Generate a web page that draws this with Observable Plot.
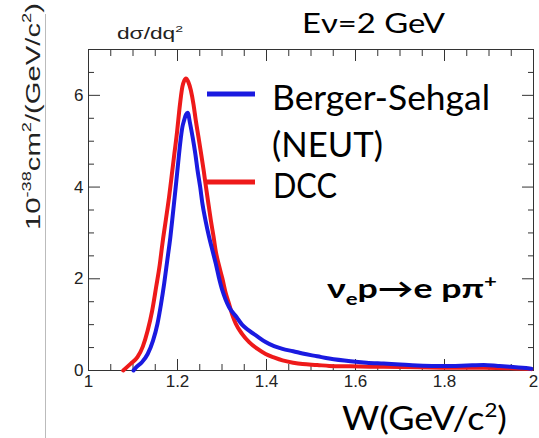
<!DOCTYPE html>
<html><head><meta charset="utf-8">
<script src="https://cdn.jsdelivr.net/npm/d3@7"></script>
<script src="https://cdn.jsdelivr.net/npm/@observablehq/plot@0.6"></script>
<style>body{margin:0;background:#fff} #chart{position:relative;width:539px;height:438px;overflow:hidden;background:#fff}</style>
</head><body><div id="chart"></div>
<script>
// DCC model (red)
const W_DCC = [1.078,1.095,1.110,1.122,1.133,1.143,1.152,1.160,1.166,1.174,1.181,1.187,1.193,1.199,1.204,1.211,1.215,1.219,1.224,1.230,1.236,1.241,1.247,1.253,1.259,1.264,1.270,1.275,1.281,1.286,1.293,1.301,1.308,1.316,1.323,1.331,1.345,1.361,1.380,1.398,1.418,1.436,1.460,1.481,1.514,1.541,1.589,1.663,1.739,1.814,1.888,1.950,1.995];
const V_DCC = [0,0.15,0.29,0.52,0.87,1.30,1.82,2.30,2.76,3.30,3.78,4.25,4.73,5.20,5.67,6.19,6.32,6.37,6.30,6.11,5.80,5.46,5.10,4.73,4.35,4.00,3.60,3.27,2.92,2.60,2.30,2.00,1.70,1.45,1.22,1.02,0.80,0.62,0.47,0.36,0.28,0.22,0.17,0.14,0.12,0.10,0.09,0.08,0.07,0.06,0.06,0.05,0.03];
// Berger-Sehgal (NEUT) model (blue)
const W_NEUT = [1.101,1.107,1.120,1.133,1.145,1.155,1.163,1.170,1.177,1.184,1.190,1.196,1.201,1.206,1.211,1.215,1.219,1.223,1.228,1.234,1.240,1.245,1.251,1.256,1.263,1.271,1.279,1.286,1.293,1.301,1.308,1.316,1.333,1.345,1.361,1.380,1.398,1.417,1.436,1.460,1.481,1.514,1.541,1.589,1.625,1.663,1.700,1.739,1.780,1.814,1.850,1.888,1.920,1.949,1.975,1.995];
const V_NEUT = [0,0.07,0.18,0.36,0.65,1.02,1.45,1.89,2.40,2.91,3.45,4.00,4.48,4.95,5.31,5.46,5.58,5.62,5.40,5.09,4.73,4.37,4.00,3.64,3.27,2.91,2.60,2.33,2.03,1.74,1.55,1.38,1.16,1.00,0.87,0.74,0.62,0.53,0.47,0.42,0.37,0.31,0.26,0.20,0.17,0.15,0.13,0.11,0.10,0.10,0.11,0.12,0.10,0.08,0.06,0.04];

const xLabelTicks = [1,1.2,1.4,1.6,1.8,2];
const xMinorTicks = [1.05,1.1,1.15,1.25,1.3,1.35,1.45,1.5,1.55,1.65,1.7,1.75,1.85,1.9,1.95];
const yLabelTicks = [0,2,4,6];
const yMinorTicks = [0.5,1,1.5,2.5,3,3.5,4.5,5,5.5,6.5];

const dcc = W_DCC.map((W,i)=>({W, v:V_DCC[i]}));
const neut = W_NEUT.map((W,i)=>({W, v:V_NEUT[i]}));

const RED = "#ee1a1a", BLUE = "#1a1ae0", TICK = "#333";
const blank = () => "";

const chart = Plot.plot({
  width:539, height:438, marginTop:49, marginRight:6, marginBottom:68, marginLeft:88,
  style:{background:"#fff", fontFamily:"'Liberation Sans', Arial, sans-serif", color:"#222"},
  x:{domain:[1,2]}, y:{domain:[0,7]},
  marks:[
    Plot.frame({stroke:TICK}),
    Plot.axisX(xLabelTicks, {anchor:"bottom", tickSize:-11, tickFormat:blank, label:null, stroke:TICK}),
    Plot.axisX(xMinorTicks, {anchor:"bottom", tickSize:-6, tickFormat:blank, label:null, stroke:TICK}),
    Plot.axisX(xLabelTicks, {anchor:"top", tickSize:-11, tickFormat:blank, label:null, stroke:TICK}),
    Plot.axisX(xMinorTicks, {anchor:"top", tickSize:-6, tickFormat:blank, label:null, stroke:TICK}),
    Plot.axisY(yLabelTicks, {anchor:"left", tickSize:-12, tickFormat:blank, label:null, stroke:TICK}),
    Plot.axisY(yMinorTicks, {anchor:"left", tickSize:-6, tickFormat:blank, label:null, stroke:TICK}),
    Plot.axisY(yLabelTicks, {anchor:"right", tickSize:-12, tickFormat:blank, label:null, stroke:TICK}),
    Plot.axisY(yMinorTicks, {anchor:"right", tickSize:-6, tickFormat:blank, label:null, stroke:TICK}),
    Plot.axisX(xLabelTicks, {anchor:"bottom", tickSize:0, tickPadding:4, fontSize:17, label:null, tickFormat:d=>String(+d.toFixed(1))}),
    Plot.axisY(yLabelTicks, {anchor:"left", tickSize:0, tickPadding:5, fontSize:17, label:null, tickFormat:d=>String(d)}),
    Plot.line(dcc, {x:"W", y:"v", stroke:RED, strokeWidth:4, curve:"monotone-x"}),
    Plot.line(neut, {x:"W", y:"v", stroke:BLUE, strokeWidth:4, curve:"monotone-x"})
  ]
});
document.getElementById("chart").appendChild(chart);

const svg = d3.select(chart);
const g = svg.append("g").attr("text-anchor","start");
g.append("line").attr("x1",45.5).attr("x2",45.5).attr("y1",14).attr("y2",438).attr("stroke","#bbb").attr("stroke-width",1);

function label(x, y, segs, o) {
  const t = g.append("text").attr("x",x).attr("y",y).attr("text-anchor","start")
    .attr("font-family",o.family).attr("font-size",o.size)
    .attr("font-weight",o.weight||"normal").attr("fill",o.fill||"#000");
  if (o.rotate) t.attr("transform",`rotate(${o.rotate},${x},${y})`);
  if (o.len) t.attr("textLength",o.len).attr("lengthAdjust","spacingAndGlyphs");
  for (const [s,k] of segs) {
    const ts = t.append("tspan").text(s);
    if (k==="sup") ts.attr("font-size",o.size*0.62).attr("baseline-shift",o.size*0.42);
    if (k==="sub") ts.attr("font-size",o.size*0.62).attr("baseline-shift",-o.size*0.25);
  }
  return t;
}
const LATO = "Lato, 'Open Sans', sans-serif";
const ARIAL = "'Liberation Sans', Arial, sans-serif";

label(117, 39, [["dσ/dq"],["2","sup"]], {family:ARIAL, size:16, len:66, fill:"#222"});
label(302, 33, [["Eν=2 GeV"]], {family:LATO, size:27, len:143});
label(40, 230, [["10"],["-38","sup"],["cm"],["2","sup"],["/(GeV/c"],["2","sup"],[")"]], {family:ARIAL, size:21, len:227, rotate:-90, fill:"#222"});
label(342, 430, [["W(GeV/c"],["2","sup"],[")"]], {family:LATO, size:32, len:165});
label(327, 298, [["ν"],["e","sub"],["p→e pπ"],["+","sup"]], {family:LATO, size:27, weight:"bold", len:170});

// legend
g.append("line").attr("x1",207).attr("x2",255).attr("y1",94).attr("y2",94).attr("stroke",BLUE).attr("stroke-width",5);
g.append("line").attr("x1",207).attr("x2",255).attr("y1",182).attr("y2",182).attr("stroke",RED).attr("stroke-width",5);
label(272, 110, [["Berger-Sehgal"]], {family:LATO, size:35, len:218});
label(272, 157, [["(NEUT)"]], {family:LATO, size:35, len:111});
label(273, 198, [["DCC"]], {family:LATO, size:35, len:64});
</script></body></html>
